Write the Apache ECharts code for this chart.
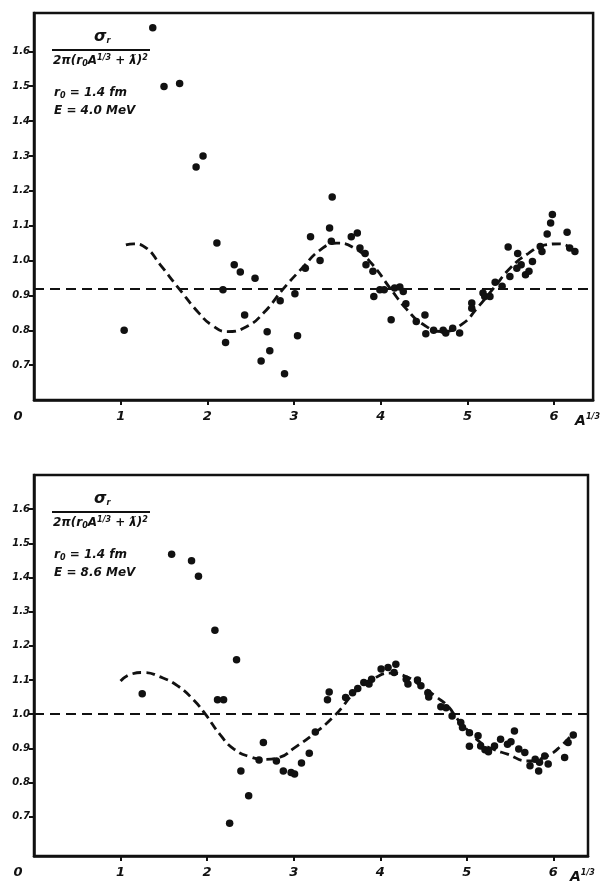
<!DOCTYPE html>
<html>
<head>
<meta charset="utf-8">
<script src="https://cdn.jsdelivr.net/npm/echarts@6/dist/echarts.min.js"></script>
<style>
html, body { margin: 0; background: #fff; }
#main { width: 601px; height: 884px; }
</style>
</head>
<body>
<div id="main"></div>
<script>
var chart = echarts.init(document.getElementById('main'));

// tick values
var xTicks = [1, 2, 3, 4, 5, 6];
var yTicks = [0.7, 0.8, 0.9, 1.0, 1.1, 1.2, 1.3, 1.4, 1.5, 1.6];

// upper panel, E = 4.0 MeV
var topDots = [[1.04,0.80],[1.37,1.668],[1.50,1.499],[1.68,1.508],[1.87,1.268],[1.95,1.30],
  [2.11,1.05],[2.18,0.916],[2.21,0.765],[2.31,0.988],[2.38,0.967],[2.43,0.844],[2.55,0.949],
  [2.62,0.712],[2.69,0.796],[2.72,0.741],[2.84,0.885],[2.89,0.675],[3.01,0.905],[3.04,0.784],
  [3.13,0.978],[3.19,1.068],[3.30,1.0],[3.41,1.093],[3.43,1.055],[3.44,1.182],[3.66,1.068],
  [3.73,1.079],[3.76,1.036],[3.82,1.02],[3.83,0.988],[3.91,0.969],[3.92,0.897],[3.99,0.916],
  [4.04,0.916],[4.12,0.83],[4.16,0.921],[4.22,0.924],[4.26,0.911],[4.29,0.876],[4.41,0.825],
  [4.51,0.844],[4.52,0.79],[4.61,0.80],[4.72,0.80],[4.75,0.792],[4.83,0.806],[4.91,0.792],
  [5.05,0.878],[5.05,0.863],[5.18,0.907],[5.20,0.897],[5.26,0.897],[5.32,0.938],[5.40,0.926],
  [5.47,1.039],[5.49,0.954],[5.57,0.978],[5.58,1.02],[5.62,0.988],[5.67,0.959],[5.71,0.969],
  [5.75,0.997],[5.84,1.04],[5.86,1.026],[5.92,1.076],[5.96,1.108],[5.98,1.132],[6.15,1.081],
  [6.18,1.036],[6.24,1.026]];
var topCurve = [[1.06,1.045],[1.15,1.048],[1.30,1.035],[1.45,0.99],[1.67,0.92],[1.90,0.85],
  [2.05,0.815],[2.23,0.796],[2.45,0.81],[2.65,0.85],[2.88,0.92],[3.10,0.98],[3.30,1.03],
  [3.49,1.05],[3.70,1.035],[3.90,0.99],[4.11,0.92],[4.30,0.86],[4.50,0.815],[4.72,0.796],
  [4.95,0.82],[5.10,0.86],[5.30,0.92],[5.50,0.98],[5.70,1.02],[5.90,1.045],[6.07,1.048],
  [6.24,1.026]];
var topLevel = 0.92;

// lower panel, E = 8.6 MeV
var botDots = [[1.25,1.06],[1.59,1.468],[1.82,1.449],[1.90,1.404],[2.09,1.246],[2.12,1.042],
  [2.19,1.042],[2.26,0.681],[2.34,1.159],[2.39,0.834],[2.48,0.761],[2.60,0.866],[2.65,0.917],
  [2.80,0.863],[2.88,0.834],[2.97,0.829],[3.01,0.825],[3.09,0.857],[3.18,0.886],[3.25,0.948],
  [3.39,1.042],[3.41,1.065],[3.60,1.049],[3.68,1.063],[3.74,1.075],[3.81,1.093],[3.87,1.088],
  [3.90,1.102],[4.01,1.132],[4.09,1.137],[4.16,1.122],[4.18,1.146],[4.30,1.102],[4.32,1.088],
  [4.43,1.10],[4.47,1.083],[4.55,1.063],[4.56,1.05],[4.70,1.022],[4.76,1.019],[4.83,0.995],
  [4.93,0.976],[4.95,0.961],[5.03,0.946],[5.03,0.906],[5.13,0.937],[5.16,0.907],[5.21,0.896],
  [5.25,0.89],[5.32,0.907],[5.39,0.927],[5.47,0.912],[5.51,0.919],[5.55,0.951],[5.60,0.898],
  [5.67,0.888],[5.73,0.849],[5.79,0.868],[5.83,0.834],[5.84,0.859],[5.90,0.878],[5.94,0.854],
  [6.13,0.873],[6.17,0.917],[6.23,0.939]];
var botCurve = [[1.0,1.097],[1.12,1.117],[1.27,1.122],[1.45,1.11],[1.66,1.083],[1.85,1.04],
  [1.98,1.0],[2.15,0.94],[2.31,0.898],[2.50,0.875],[2.66,0.868],[2.85,0.875],[3.0,0.90],
  [3.23,0.942],[3.47,0.995],[3.74,1.073],[3.95,1.108],[4.12,1.12],[4.30,1.11],[4.47,1.083],
  [4.65,1.05],[4.78,1.024],[4.88,0.99],[5.0,0.955],[5.16,0.917],[5.30,0.898],[5.47,0.883],
  [5.70,0.863],[5.93,0.878],[6.10,0.91],[6.22,0.942]];
var botLevel = 1.0;

var ink = '#111';
var font = 'DejaVu Sans';

function xAxisFor(idx, max) {
  return {
    type: 'value', gridIndex: idx, min: 0, max: max,
    splitLine: { show: false },
    axisLine: { lineStyle: { color: ink, width: 2.5 } },
    axisTick: { length: 5, lineStyle: { color: ink, width: 2 }, customValues: xTicks },
    axisLabel: {
      customValues: [0].concat(xTicks), margin: 10,
      color: ink, fontFamily: font, fontStyle: 'italic', fontWeight: 'bold', fontSize: 13,
      formatter: function (v) { return v === 0 ? '{o|0}' : String(v); },
      rich: { o: { padding: [0, 32, 0, 0], color: ink, fontFamily: font, fontStyle: 'italic', fontWeight: 'bold', fontSize: 13 } }
    },
    name: '{a|A}{s|1/3}', nameLocation: 'end', nameGap: -18,
    nameTextStyle: {
      verticalAlign: 'top', padding: [13, 0, 0, 0],
      rich: {
        a: { color: ink, fontFamily: font, fontStyle: 'italic', fontWeight: 'bold', fontSize: 14 },
        s: { color: ink, fontFamily: font, fontStyle: 'italic', fontWeight: 'bold', fontSize: 8, verticalAlign: 'top', padding: [0, 0, 8, 0] }
      }
    }
  };
}

function yAxisFor(idx, min, max) {
  return {
    type: 'value', gridIndex: idx, min: min, max: max,
    splitLine: { show: false },
    axisLine: { lineStyle: { color: ink, width: 2.5 } },
    axisTick: { length: 5, lineStyle: { color: ink, width: 2 }, customValues: yTicks },
    axisLabel: {
      customValues: yTicks, margin: 4,
      color: ink, fontFamily: font, fontStyle: 'italic', fontWeight: 'bold', fontSize: 10,
      formatter: function (v) { return v.toFixed(1); }
    }
  };
}

function dots(idx, data) {
  return {
    type: 'scatter', xAxisIndex: idx, yAxisIndex: idx, data: data,
    symbol: 'circle', symbolSize: 7.5, itemStyle: { color: ink, opacity: 1 }, silent: true
  };
}

function curve(idx, data, level) {
  return {
    type: 'line', xAxisIndex: idx, yAxisIndex: idx, data: data, smooth: 0.5,
    showSymbol: false, silent: true,
    lineStyle: { color: ink, width: 2.8, type: [9, 5] },
    markLine: {
      silent: true, symbol: 'none', label: { show: false },
      lineStyle: { color: ink, width: 2, type: [10, 6] },
      data: [{ yAxis: level }]
    }
  };
}

var richText = {
  n: { fontFamily: font, fontStyle: 'italic', fontWeight: 'bold', fontSize: 16, fill: ink },
  t: { fontFamily: font, fontStyle: 'italic', fontWeight: 'bold', fontSize: 12, fill: ink },
  sub: { fontFamily: font, fontStyle: 'italic', fontWeight: 'bold', fontSize: 8, fill: ink, verticalAlign: 'bottom', padding: [6, 0, 0, 0] },
  sup: { fontFamily: font, fontStyle: 'italic', fontWeight: 'bold', fontSize: 8, fill: ink, verticalAlign: 'top', padding: [0, 0, 6, 0] }
};

function labelBlock(top, energy) {
  return [
    { type: 'text', left: 94, top: top + 2, style: { text: '{n|σ}{sub|r}', rich: richText } },
    { type: 'line', shape: { x1: 52, y1: top + 23, x2: 150, y2: top + 23 }, style: { stroke: ink, lineWidth: 1.8 } },
    { type: 'text', left: 53, top: top + 27, style: { text: '{t|2π(r}{sub|0}{t|A}{sup|1/3}{t| + ƛ)}{sup|2}', rich: richText } },
    { type: 'text', left: 54, top: top + 60, style: { text: '{t|r}{sub|0}{t| = 1.4 fm}', rich: richText } },
    { type: 'text', left: 54, top: top + 78, style: { text: '{t|E = ' + energy + ' MeV}', rich: richText } }
  ];
}

var option = {
  backgroundColor: '#fff',
  animation: false,
  grid: [
    { left: 34, top: 13, width: 560, height: 387, show: true, borderColor: ink, borderWidth: 2.5 },
    { left: 34, top: 475, width: 554, height: 382, show: true, borderColor: ink, borderWidth: 2.5 }
  ],
  xAxis: [xAxisFor(0, 6.45), xAxisFor(1, 6.4)],
  yAxis: [yAxisFor(0, 0.6, 1.71), yAxisFor(1, 0.585, 1.70)],
  series: [
    dots(0, topDots), curve(0, topCurve, topLevel),
    dots(1, botDots), curve(1, botCurve, botLevel)
  ],
  graphic: labelBlock(27, '4.0').concat(labelBlock(489, '8.6'))
};

chart.setOption(option);
</script>
</body>
</html>
